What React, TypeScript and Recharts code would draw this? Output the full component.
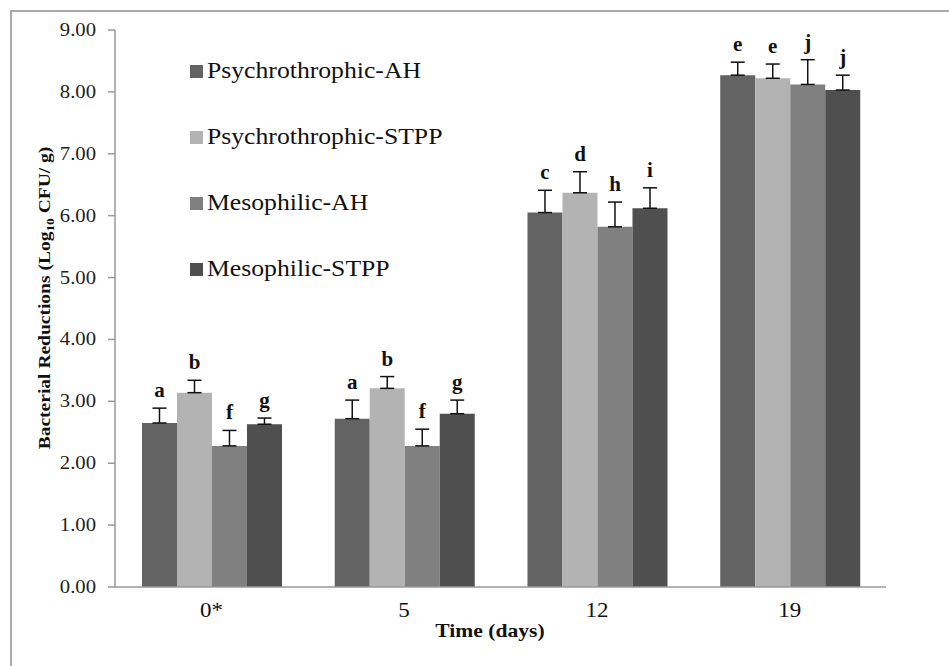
import { BarChart, Bar, XAxis, YAxis, ErrorBar, LabelList, Legend } from "recharts";

// Bacterial reductions per storage day, four treatment groups
const days = ["0*", "5", "12", "19"];

const psychroAH = [2.65, 2.72, 6.05, 8.27];
const psychroAHErr = [0.24, 0.3, 0.36, 0.21];
const psychroAHSig = ["a", "a", "c", "e"];

const psychroSTPP = [3.14, 3.21, 6.37, 8.22];
const psychroSTPPErr = [0.2, 0.19, 0.34, 0.23];
const psychroSTPPSig = ["b", "b", "d", "e"];

const mesoAH = [2.28, 2.28, 5.82, 8.12];
const mesoAHErr = [0.25, 0.27, 0.4, 0.4];
const mesoAHSig = ["f", "f", "h", "j"];

const mesoSTPP = [2.63, 2.8, 6.12, 8.03];
const mesoSTPPErr = [0.1, 0.22, 0.33, 0.24];
const mesoSTPPSig = ["g", "g", "i", "j"];

const yTicks = [0, 1, 2, 3, 4, 5, 6, 7, 8, 9];

const SERIF = "'Liberation Serif', 'Times New Roman', serif";

const series = [
  { key: "psyAH", name: "Psychrothrophic-AH", values: psychroAH, err: psychroAHErr, sig: psychroAHSig, fill: "#636363" },
  { key: "psySTPP", name: "Psychrothrophic-STPP", values: psychroSTPP, err: psychroSTPPErr, sig: psychroSTPPSig, fill: "#b3b3b3" },
  { key: "mesAH", name: "Mesophilic-AH", values: mesoAH, err: mesoAHErr, sig: mesoAHSig, fill: "#808080" },
  { key: "mesSTPP", name: "Mesophilic-STPP", values: mesoSTPP, err: mesoSTPPErr, sig: mesoSTPPSig, fill: "#4f4f4f" },
];

const data = days.map((day, i) => {
  const row: Record<string, unknown> = { day };
  series.forEach((s) => {
    row[s.key] = s.values[i];
    row[s.key + "Err"] = [0, s.err[i]]; // plus-only error bars
    row[s.key + "Sig"] = s.sig[i];
  });
  return row;
});

const YTick = (p: any) => (
  <g transform={`translate(${p.x},${p.y}) scale(1.15,1)`}>
    <text x={0} y={0} dy={6} textAnchor="end" fontFamily={SERIF} fontSize={18} fill="#222">
      {Number(p.payload.value).toFixed(2)}
    </text>
  </g>
);

const XTick = (p: any) => (
  <g transform={`translate(${p.x},${p.y}) scale(1.15,1)`}>
    <text x={0} y={28} textAnchor="middle" fontFamily={SERIF} fontSize={20} fill="#111">
      {p.payload.value}
    </text>
  </g>
);

// significance letter sitting above the error bar cap
const sigLabel = (s: (typeof series)[number]) => (p: any) => {
  const vb = p.viewBox ?? p;
  const x = p.x ?? vb.x;
  const y = p.y ?? vb.y;
  const w = p.width ?? vb.width;
  const h = p.height ?? vb.height;
  const v = s.values[p.index];
  const top = y - (s.err[p.index] * h) / v;
  return (
    <text x={x + w / 2} y={top - 11} textAnchor="middle" fontFamily={SERIF} fontWeight="bold" fontSize={21} fill="#111">
      {p.value}
    </text>
  );
};

// keep the series order (the default legend sorts by name)
const LegendBox = () => (
  <div style={{ fontFamily: SERIF, fontSize: 24, color: "#111" }}>
    {series.map((s) => (
      <div key={s.key} style={{ height: 66, display: "flex", alignItems: "center" }}>
        <span style={{ width: 13, height: 13, background: s.fill, marginRight: 4, marginTop: 2 }} />
        <span style={{ display: "inline-block", transform: "scaleX(1.07)", transformOrigin: "left center" }}>{s.name}</span>
      </div>
    ))}
  </div>
);

export default function App() {
  return (
    <div style={{ position: "absolute", left: 0, top: 0, width: 949, height: 666, overflow: "hidden", background: "#fff" }}>
      <div style={{ position: "absolute", left: 10, top: 10, width: 1000, height: 720, border: "2px solid #aaaaaa" }} />
      <BarChart
        width={949}
        height={666}
        data={data}
        margin={{ top: 30, right: 63, bottom: 49, left: 15 }}
        barCategoryGap="14%"
        barGap={0}
      >
        <XAxis
          dataKey="day"
          height={30}
          tickLine={false}
          tickSize={0}
          axisLine={{ stroke: "#999", strokeWidth: 1.5 }}
          tick={<XTick />}
          label={{
            content: () => (
              <g transform="translate(490,637) scale(1.2,1)">
                <text x={0} y={0} textAnchor="middle" fontFamily={SERIF} fontWeight="bold" fontSize={18} fill="#111">
                  Time (days)
                </text>
              </g>
            ),
          }}
        />
        <YAxis
          width={100}
          domain={[0, 9]}
          ticks={yTicks}
          interval={0}
          tickSize={7}
          tickMargin={12}
          tickLine={{ stroke: "#999", strokeWidth: 1.5 }}
          axisLine={{ stroke: "#999", strokeWidth: 1.5 }}
          tick={<YTick />}
          label={{
            content: () => (
              <g transform="translate(50,298) rotate(-90) scale(1.22,1)">
                <text x={0} y={0} textAnchor="middle" fontFamily={SERIF} fontWeight="bold" fontSize={16} fill="#111">
                  Bacterial Reductions (Log
                  <tspan fontSize={11} dy={4}>10</tspan>
                  <tspan dy={-4}> CFU/ g)</tspan>
                </text>
              </g>
            ),
          }}
        />
        <Legend
          layout="vertical"
          verticalAlign="middle"
          align="center"
          wrapperStyle={{ position: "absolute", left: 190, top: 37, width: 340 }}
          content={<LegendBox />}
        />
        {series.map((s) => (
          <Bar key={s.key} dataKey={s.key} name={s.name} fill={s.fill} isAnimationActive={false}>
            <ErrorBar dataKey={s.key + "Err"} direction="y" width={7} stroke="#111" strokeWidth={1.5} />
            <LabelList dataKey={s.key + "Sig"} content={sigLabel(s)} />
          </Bar>
        ))}
      </BarChart>
    </div>
  );
}
